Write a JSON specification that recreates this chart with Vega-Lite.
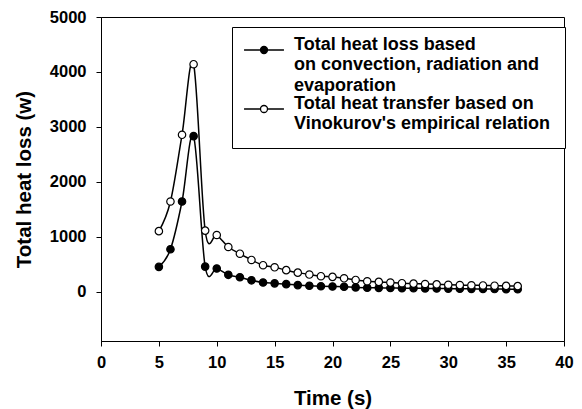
{
  "$schema": "https://vega.github.io/schema/vega-lite/v6.json",
  "width": 463,
  "height": 324,
  "autosize": {"type": "none"},
  "padding": {"left": 101, "top": 17, "right": 18, "bottom": 68},
  "background": "white",
  "config": {
    "view": {"stroke": "black", "strokeWidth": 1},
    "font": "Liberation Sans",
    "style": {"guide-label": {"lineHeight": 20.3}},
    "axis": {
      "grid": false,
      "domainColor": "black",
      "domainWidth": 1,
      "tickColor": "black",
      "tickSize": 5,
      "labelFont": "Liberation Sans",
      "labelFontSize": 16.5,
      "labelFontWeight": "bold",
      "labelColor": "black",
      "labelFlush": false,
      "labelOverlap": false,
      "titleFont": "Liberation Sans",
      "titleFontSize": 20.5,
      "titleFontWeight": "bold",
      "titleColor": "black"
    }
  },
  "data": {
    "values": [
      {"t": 5, "q": 450, "s": "loss"}, {"t": 6, "q": 770, "s": "loss"}, {"t": 7, "q": 1640, "s": "loss"},
      {"t": 8, "q": 2830, "s": "loss"}, {"t": 9, "q": 455, "s": "loss"}, {"t": 10, "q": 420, "s": "loss"},
      {"t": 11, "q": 305, "s": "loss"}, {"t": 12, "q": 260, "s": "loss"}, {"t": 13, "q": 205, "s": "loss"},
      {"t": 14, "q": 165, "s": "loss"}, {"t": 15, "q": 150, "s": "loss"}, {"t": 16, "q": 135, "s": "loss"},
      {"t": 17, "q": 118, "s": "loss"}, {"t": 18, "q": 105, "s": "loss"}, {"t": 19, "q": 97, "s": "loss"},
      {"t": 20, "q": 92, "s": "loss"}, {"t": 21, "q": 87, "s": "loss"}, {"t": 22, "q": 76, "s": "loss"},
      {"t": 23, "q": 71, "s": "loss"}, {"t": 24, "q": 68, "s": "loss"}, {"t": 25, "q": 65, "s": "loss"},
      {"t": 26, "q": 62, "s": "loss"}, {"t": 27, "q": 60, "s": "loss"}, {"t": 28, "q": 58, "s": "loss"},
      {"t": 29, "q": 56, "s": "loss"}, {"t": 30, "q": 54, "s": "loss"}, {"t": 31, "q": 52, "s": "loss"},
      {"t": 32, "q": 50, "s": "loss"}, {"t": 33, "q": 48, "s": "loss"}, {"t": 34, "q": 46, "s": "loss"},
      {"t": 35, "q": 44, "s": "loss"}, {"t": 36, "q": 42, "s": "loss"},
      {"t": 5, "q": 1100, "s": "vino"}, {"t": 6, "q": 1640, "s": "vino"}, {"t": 7, "q": 2855, "s": "vino"},
      {"t": 8, "q": 4140, "s": "vino"}, {"t": 9, "q": 1110, "s": "vino"}, {"t": 10, "q": 1030, "s": "vino"},
      {"t": 11, "q": 812, "s": "vino"}, {"t": 12, "q": 690, "s": "vino"}, {"t": 13, "q": 576, "s": "vino"},
      {"t": 14, "q": 480, "s": "vino"}, {"t": 15, "q": 442, "s": "vino"}, {"t": 16, "q": 390, "s": "vino"},
      {"t": 17, "q": 345, "s": "vino"}, {"t": 18, "q": 310, "s": "vino"}, {"t": 19, "q": 280, "s": "vino"},
      {"t": 20, "q": 268, "s": "vino"}, {"t": 21, "q": 242, "s": "vino"}, {"t": 22, "q": 212, "s": "vino"},
      {"t": 23, "q": 188, "s": "vino"}, {"t": 24, "q": 176, "s": "vino"}, {"t": 25, "q": 164, "s": "vino"},
      {"t": 26, "q": 152, "s": "vino"}, {"t": 27, "q": 145, "s": "vino"}, {"t": 28, "q": 138, "s": "vino"},
      {"t": 29, "q": 132, "s": "vino"}, {"t": 30, "q": 124, "s": "vino"}, {"t": 31, "q": 119, "s": "vino"},
      {"t": 32, "q": 115, "s": "vino"}, {"t": 33, "q": 111, "s": "vino"}, {"t": 34, "q": 107, "s": "vino"},
      {"t": 35, "q": 103, "s": "vino"}, {"t": 36, "q": 100, "s": "vino"}
    ]
  },
  "encoding": {
    "x": {
      "field": "t", "type": "quantitative",
      "scale": {"domain": [0, 40], "nice": false, "zero": false},
      "axis": {"values": [0, 5, 10, 15, 20, 25, 30, 35, 40], "format": "d", "title": "Time (s)", "labelPadding": 8, "titlePadding": 18, "labelFontWeight": "bold", "labelFontSize": 16.5}
    },
    "y": {
      "field": "q", "type": "quantitative",
      "scale": {"domain": [-900, 5000], "nice": false, "zero": false},
      "axis": {"values": [0, 1000, 2000, 3000, 4000, 5000], "format": "d", "title": "Total heat loss (w)", "labelPadding": 10, "titlePadding": 15, "labelFontWeight": "bold", "labelFontSize": 16.5}
    }
  },
  "layer": [
    {
      "mark": {"type": "line", "interpolate": "cardinal", "color": "black", "strokeWidth": 1.5},
      "encoding": {"detail": {"field": "s"}}
    },
    {
      "mark": {"type": "point", "shape": "circle", "filled": true, "size": 55, "stroke": "black", "strokeWidth": 1.2, "opacity": 1},
      "encoding": {
        "fill": {
          "field": "s", "type": "nominal",
          "scale": {"domain": ["loss", "vino"], "range": ["black", "white"]},
          "legend": {
            "orient": "none",
            "legendX": 131,
            "legendY": 10,
            "title": null,
            "strokeColor": "black",
            "fillColor": "white",
            "padding": 14,
            "labelFont": "Liberation Sans",
            "labelFontSize": 18,
            "labelFontWeight": "bold",
            "labelColor": "black",
            "labelLimit": 400,
            "labelBaseline": "alphabetic",
            "labelOffset": 21,
            "labelExpr": "datum.label == 'loss' ? ['Total heat loss based', 'on convection, radiation and', 'evaporation'] : ['Total heat transfer based on', \"Vinokurov's empirical relation\"]",
            "symbolType": "M-5.7,0L-1,0M1,0L5.7,0M-1,0A1,1,0,1,1,1,0A1,1,0,1,1,-1,0Z",
            "symbolSize": 49,
            "symbolOffset": 9,
            "symbolStrokeColor": "black",
            "symbolStrokeWidth": 1.3,
            "rowPadding": 0
          }
        }
      }
    }
  ]
}
